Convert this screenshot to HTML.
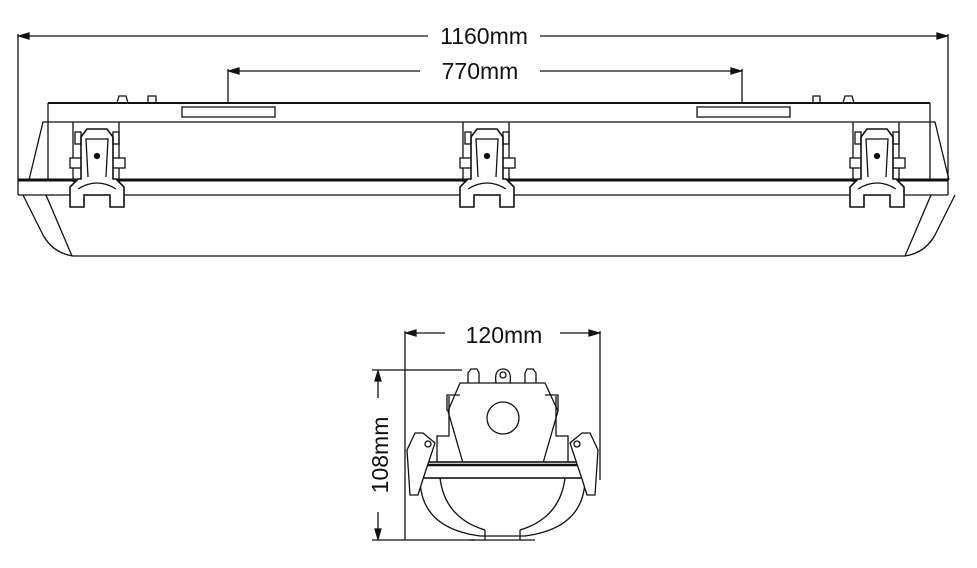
<!DOCTYPE html>
<html><head><style>html,body{margin:0;padding:0;background:#fff}svg{display:block}</style></head><body>
<svg width="977" height="568" viewBox="0 0 977 568" xmlns="http://www.w3.org/2000/svg" fill="none" stroke="#111" stroke-width="1.3" font-family="Liberation Sans, sans-serif">
<!-- dims top -->
<line x1="18" y1="36" x2="428" y2="36"/><line x1="540" y1="36" x2="948" y2="36"/>
<line x1="18" y1="34" x2="18" y2="195"/><line x1="948" y1="34" x2="948" y2="195"/>
<path d="M19 36 l10 -3 v6z M947 36 l-10 -3 v6z" fill="#111"/>
<text x="484" y="44" font-size="23" fill="#111" stroke="none" text-anchor="middle">1160mm</text>
<line x1="228" y1="71" x2="420" y2="71"/><line x1="540" y1="71" x2="742" y2="71"/>
<line x1="228" y1="69" x2="228" y2="103"/><line x1="742" y1="69" x2="742" y2="103"/>
<path d="M229 71 l10 -3 v6z M741 71 l-10 -3 v6z" fill="#111"/>
<text x="480" y="79" font-size="23" fill="#111" stroke="none" text-anchor="middle">770mm</text>
<!-- body -->
<path d="M117 103 l2 -7 h7 l2 7 M148 103 v-7 h8 v7 M813 103 v-7 h7 v7 M843 103 l2 -7 h7 l2 7"/>
<line x1="48" y1="103" x2="930" y2="103" stroke-width="2"/>
<line x1="48" y1="103" x2="48" y2="180"/><line x1="930" y1="103" x2="930" y2="180"/>
<line x1="48" y1="122" x2="930" y2="122"/>
<rect x="182" y="107" width="93" height="10"/><rect x="697" y="107" width="93" height="10"/>
<path d="M48 122 h-5 l-14 58 M930 122 h5 l14 58"/>
<line x1="18" y1="180" x2="948" y2="180" stroke-width="3"/>
<line x1="18" y1="195" x2="948" y2="195"/>
<path d="M23 195 l20 40 q10 18 30 21 h832 q20 -3 30 -21 l20 -40"/>
<path d="M46 195 l26 61 M931 195 l-26 61"/>
<!-- latches -->
<g id="l">
<path d="M73 122 v60 M119 122 v60"/>
<rect x="70" y="158" width="55" height="10" fill="#fff"/>
<path d="M70 207 v-20 l8 -8 h3 v-42 l6 -8 h20 l6 8 v42 h3 l8 8 v20 h-14 v-12 h-26 v12z" fill="#fff" stroke-width="1.6"/>
<path d="M88 177 l-2 -38 h22 l-2 38 M78 189 q19 -12 38 0"/>
<rect x="75" y="132" width="6" height="12"/><rect x="113" y="132" width="6" height="12"/>
<circle cx="97" cy="156" r="2.5" fill="#111"/>
</g>
<use href="#l" x="390"/><use href="#l" x="780"/>
<!-- bottom view dims -->
<line x1="405" y1="333" x2="445" y2="333"/><line x1="560" y1="333" x2="600" y2="333"/>
<line x1="405" y1="331" x2="405" y2="540"/><line x1="600" y1="331" x2="600" y2="480"/>
<path d="M406 333 l10 -3 v6z M599 333 l-10 -3 v6z" fill="#111"/>
<text x="504" y="343" font-size="23" fill="#111" stroke="none" text-anchor="middle">120mm</text>
<line x1="372" y1="370" x2="462" y2="370"/><line x1="372" y1="540" x2="475" y2="540"/>
<line x1="378" y1="370" x2="378" y2="398"/><line x1="378" y1="512" x2="378" y2="540"/>
<path d="M378 371 l-3 10 h6z M378 539 l-3 -10 h6z" fill="#111"/>
<text transform="translate(388 455) rotate(-90)" font-size="23" fill="#111" stroke="none" text-anchor="middle">108mm</text>
<!-- bottom view body -->
<path d="M468 383 v-10 l3 -4 h6 l2 4 v10 M525 383 v-10 l2 -4 h6 l3 4 v10"/>
<path d="M496 383 q-2 -14 7 -14 q9 0 7 14"/><circle cx="503" cy="375" r="3"/>
<path d="M460 383 h85 l13 28 l-15 52 h-80 l-15 -52z"/>
<path d="M447 411 v-16 h13 M558 411 v-16 h-13"/>
<circle cx="503" cy="418" r="16"/>
<path d="M437 462 v-26 h12 v-40 M568 462 v-26 h-12 v-40"/>
<path d="M420 478 q0 50 60 58 h45 q60 -8 60 -58"/>
<path d="M440 478 q5 40 45 52 M565 478 q-5 40 -45 52 M485 530 v10 M520 530 v10 M470 540 h65"/>
<rect x="416" y="462" width="173" height="16" stroke-width="1.6" fill="#fff"/>
<line x1="416" y1="465" x2="589" y2="465" stroke-width="2.5"/>
<path d="M410 495 l-3 -45 l8 -17 h8 l12 10 l-12 36 l-5 16z M595 495 l3 -45 l-8 -17 h-8 l-12 10 l12 36 l5 16z" fill="#fff"/>
<circle cx="428" cy="444" r="3"/><circle cx="577" cy="444" r="3"/>
</svg>
</body></html>
